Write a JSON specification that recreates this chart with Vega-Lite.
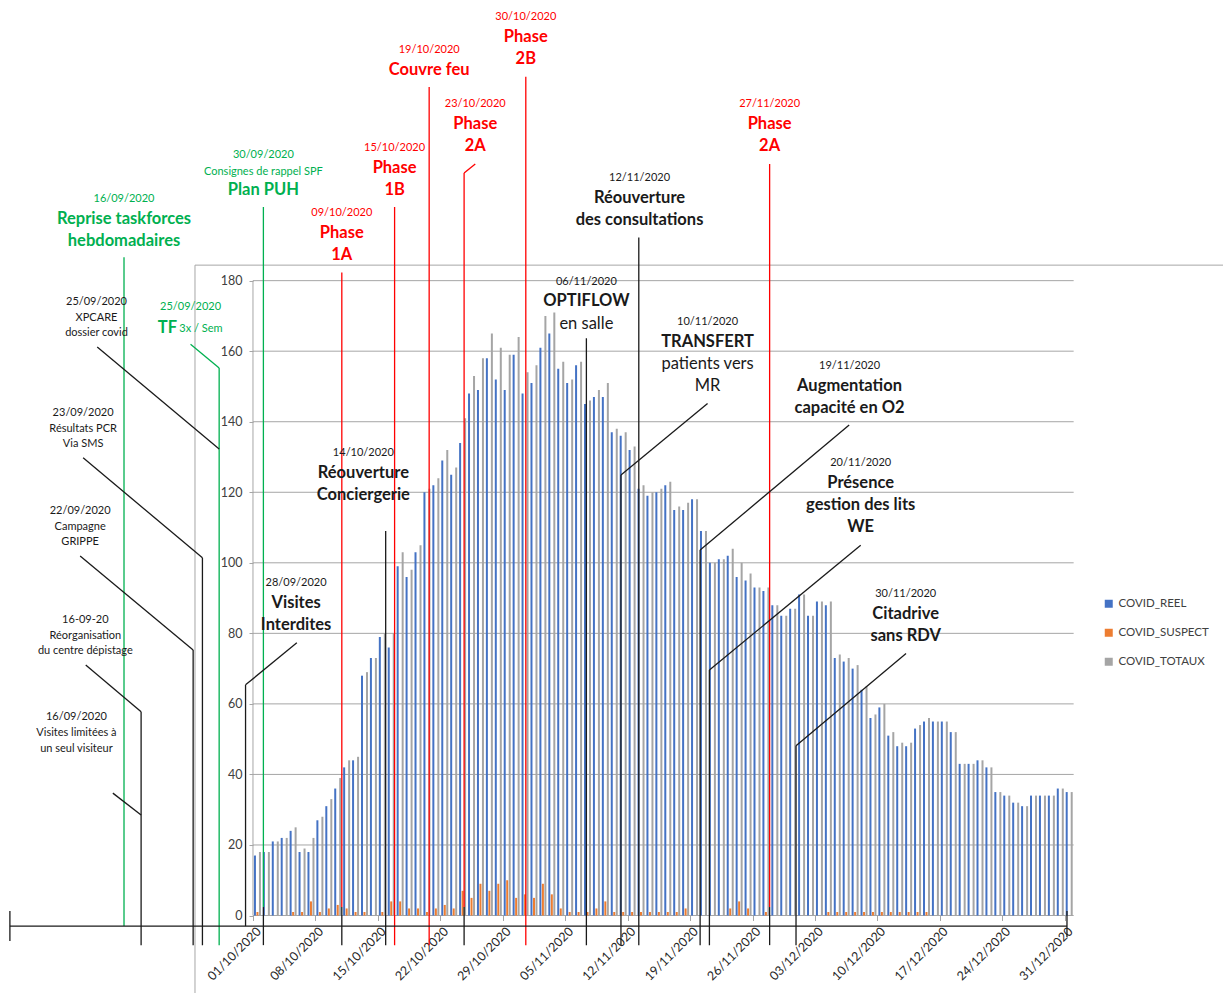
{
  "$schema": "https://vega.github.io/schema/vega-lite/v6.json",
  "width": 1223,
  "height": 993,
  "padding": 0,
  "autosize": {"type": "none"},
  "background": "white",
  "config": {"view": {"stroke": null}, "font": "Lato"},
  "datasets": {
    "covid": [
      {"d": "2020-10-01", "reel": 17, "suspect": 1, "totaux": 18},
      {"d": "2020-10-02", "reel": 18, "suspect": 0, "totaux": 18},
      {"d": "2020-10-03", "reel": 21, "suspect": 0, "totaux": 21},
      {"d": "2020-10-04", "reel": 22, "suspect": 0, "totaux": 22},
      {"d": "2020-10-05", "reel": 24, "suspect": 1, "totaux": 25},
      {"d": "2020-10-06", "reel": 18, "suspect": 1, "totaux": 19},
      {"d": "2020-10-07", "reel": 18, "suspect": 4, "totaux": 22},
      {"d": "2020-10-08", "reel": 27, "suspect": 1, "totaux": 28},
      {"d": "2020-10-09", "reel": 31, "suspect": 2, "totaux": 33},
      {"d": "2020-10-10", "reel": 36, "suspect": 3, "totaux": 39},
      {"d": "2020-10-11", "reel": 42, "suspect": 2, "totaux": 44},
      {"d": "2020-10-12", "reel": 44, "suspect": 1, "totaux": 45},
      {"d": "2020-10-13", "reel": 68, "suspect": 1, "totaux": 69},
      {"d": "2020-10-14", "reel": 73, "suspect": 0, "totaux": 73},
      {"d": "2020-10-15", "reel": 79, "suspect": 1, "totaux": 80},
      {"d": "2020-10-16", "reel": 76, "suspect": 4, "totaux": 80},
      {"d": "2020-10-17", "reel": 99, "suspect": 4, "totaux": 103},
      {"d": "2020-10-18", "reel": 96, "suspect": 2, "totaux": 98},
      {"d": "2020-10-19", "reel": 103, "suspect": 2, "totaux": 105},
      {"d": "2020-10-20", "reel": 120, "suspect": 1, "totaux": 121},
      {"d": "2020-10-21", "reel": 122, "suspect": 2, "totaux": 124},
      {"d": "2020-10-22", "reel": 129, "suspect": 3, "totaux": 132},
      {"d": "2020-10-23", "reel": 125, "suspect": 2, "totaux": 127},
      {"d": "2020-10-24", "reel": 134, "suspect": 7, "totaux": 141},
      {"d": "2020-10-25", "reel": 148, "suspect": 5, "totaux": 153},
      {"d": "2020-10-26", "reel": 149, "suspect": 9, "totaux": 158},
      {"d": "2020-10-27", "reel": 158, "suspect": 7, "totaux": 165},
      {"d": "2020-10-28", "reel": 152, "suspect": 9, "totaux": 161},
      {"d": "2020-10-29", "reel": 149, "suspect": 10, "totaux": 159},
      {"d": "2020-10-30", "reel": 159, "suspect": 5, "totaux": 164},
      {"d": "2020-10-31", "reel": 148, "suspect": 6, "totaux": 154},
      {"d": "2020-11-01", "reel": 151, "suspect": 5, "totaux": 156},
      {"d": "2020-11-02", "reel": 161, "suspect": 9, "totaux": 170},
      {"d": "2020-11-03", "reel": 165, "suspect": 6, "totaux": 171},
      {"d": "2020-11-04", "reel": 155, "suspect": 2, "totaux": 157},
      {"d": "2020-11-05", "reel": 151, "suspect": 1, "totaux": 152},
      {"d": "2020-11-06", "reel": 156, "suspect": 1, "totaux": 157},
      {"d": "2020-11-07", "reel": 145, "suspect": 1, "totaux": 146},
      {"d": "2020-11-08", "reel": 147, "suspect": 2, "totaux": 149},
      {"d": "2020-11-09", "reel": 147, "suspect": 4, "totaux": 151},
      {"d": "2020-11-10", "reel": 137, "suspect": 1, "totaux": 138},
      {"d": "2020-11-11", "reel": 136, "suspect": 1, "totaux": 137},
      {"d": "2020-11-12", "reel": 132, "suspect": 1, "totaux": 133},
      {"d": "2020-11-13", "reel": 121, "suspect": 1, "totaux": 122},
      {"d": "2020-11-14", "reel": 119, "suspect": 1, "totaux": 120},
      {"d": "2020-11-15", "reel": 120, "suspect": 1, "totaux": 121},
      {"d": "2020-11-16", "reel": 122, "suspect": 1, "totaux": 123},
      {"d": "2020-11-17", "reel": 115, "suspect": 1, "totaux": 116},
      {"d": "2020-11-18", "reel": 115, "suspect": 2, "totaux": 117},
      {"d": "2020-11-19", "reel": 118, "suspect": 0, "totaux": 118},
      {"d": "2020-11-20", "reel": 109, "suspect": 0, "totaux": 109},
      {"d": "2020-11-21", "reel": 100, "suspect": 0, "totaux": 100},
      {"d": "2020-11-22", "reel": 101, "suspect": 0, "totaux": 101},
      {"d": "2020-11-23", "reel": 102, "suspect": 2, "totaux": 104},
      {"d": "2020-11-24", "reel": 96, "suspect": 4, "totaux": 100},
      {"d": "2020-11-25", "reel": 95, "suspect": 2, "totaux": 97},
      {"d": "2020-11-26", "reel": 93, "suspect": 0, "totaux": 93},
      {"d": "2020-11-27", "reel": 92, "suspect": 1, "totaux": 93},
      {"d": "2020-11-28", "reel": 88, "suspect": 0, "totaux": 88},
      {"d": "2020-11-29", "reel": 85, "suspect": 0, "totaux": 85},
      {"d": "2020-11-30", "reel": 87, "suspect": 0, "totaux": 87},
      {"d": "2020-12-01", "reel": 91, "suspect": 0, "totaux": 91},
      {"d": "2020-12-02", "reel": 85, "suspect": 0, "totaux": 85},
      {"d": "2020-12-03", "reel": 89, "suspect": 0, "totaux": 89},
      {"d": "2020-12-04", "reel": 88, "suspect": 1, "totaux": 89},
      {"d": "2020-12-05", "reel": 73, "suspect": 1, "totaux": 74},
      {"d": "2020-12-06", "reel": 72, "suspect": 1, "totaux": 73},
      {"d": "2020-12-07", "reel": 70, "suspect": 1, "totaux": 71},
      {"d": "2020-12-08", "reel": 64, "suspect": 1, "totaux": 65},
      {"d": "2020-12-09", "reel": 56, "suspect": 1, "totaux": 57},
      {"d": "2020-12-10", "reel": 59, "suspect": 1, "totaux": 60},
      {"d": "2020-12-11", "reel": 51, "suspect": 1, "totaux": 52},
      {"d": "2020-12-12", "reel": 48, "suspect": 1, "totaux": 49},
      {"d": "2020-12-13", "reel": 48, "suspect": 1, "totaux": 49},
      {"d": "2020-12-14", "reel": 53, "suspect": 1, "totaux": 54},
      {"d": "2020-12-15", "reel": 55, "suspect": 1, "totaux": 56},
      {"d": "2020-12-16", "reel": 55, "suspect": 0, "totaux": 55},
      {"d": "2020-12-17", "reel": 55, "suspect": 0, "totaux": 55},
      {"d": "2020-12-18", "reel": 52, "suspect": 0, "totaux": 52},
      {"d": "2020-12-19", "reel": 43, "suspect": 0, "totaux": 43},
      {"d": "2020-12-20", "reel": 43, "suspect": 0, "totaux": 43},
      {"d": "2020-12-21", "reel": 44, "suspect": 0, "totaux": 44},
      {"d": "2020-12-22", "reel": 42, "suspect": 0, "totaux": 42},
      {"d": "2020-12-23", "reel": 35, "suspect": 0, "totaux": 35},
      {"d": "2020-12-24", "reel": 34, "suspect": 0, "totaux": 34},
      {"d": "2020-12-25", "reel": 32, "suspect": 0, "totaux": 32},
      {"d": "2020-12-26", "reel": 31, "suspect": 0, "totaux": 31},
      {"d": "2020-12-27", "reel": 34, "suspect": 0, "totaux": 34},
      {"d": "2020-12-28", "reel": 34, "suspect": 0, "totaux": 34},
      {"d": "2020-12-29", "reel": 34, "suspect": 0, "totaux": 34},
      {"d": "2020-12-30", "reel": 36, "suspect": 0, "totaux": 36},
      {"d": "2020-12-31", "reel": 35, "suspect": 0, "totaux": 35}
    ],
    "graduations": [
      {"v": 0}, {"v": 20}, {"v": 40}, {"v": 60}, {"v": 80},
      {"v": 100}, {"v": 120}, {"v": 140}, {"v": 160}, {"v": 180}
    ],
    "cadre": [
      {"x1": "2020-09-24T00:00Z", "y1": 184.4, "x2": "2021-01-17T06:00Z", "y2": 184.4},
      {"x1": "2020-09-24T00:00Z", "y1": 184.4, "x2": "2020-09-24T00:00Z", "y2": -22},
      {"x1": "2020-09-30T12:00Z", "y1": 0, "x2": "2020-09-30T12:00Z", "y2": 180}
    ],
    "segments": [
      {"x1": "2020-09-16T01:00Z", "y1": 186.6, "x2": "2020-09-16T01:00Z", "y2": -3.0, "type": "taskforce"},
      {"x1": "2020-10-01T16:00Z", "y1": 200.9, "x2": "2020-10-01T16:00Z", "y2": 2.4, "type": "taskforce"},
      {"x1": "2020-10-01T16:00Z", "y1": 2.4, "x2": "2020-10-01T16:00Z", "y2": -8.4, "type": "evenement"},
      {"x1": "2020-09-23T12:00Z", "y1": 162.0, "x2": "2020-09-26T17:00Z", "y2": 155.2, "type": "taskforce"},
      {"x1": "2020-09-26T17:00Z", "y1": 155.2, "x2": "2020-09-26T17:00Z", "y2": -8.4, "type": "taskforce"},
      {"x1": "2020-10-10T11:00Z", "y1": 182.3, "x2": "2020-10-10T11:00Z", "y2": 2.4, "type": "phase"},
      {"x1": "2020-10-10T11:00Z", "y1": 2.4, "x2": "2020-10-10T11:00Z", "y2": -8.4, "type": "evenement"},
      {"x1": "2020-10-16T09:00Z", "y1": 200.9, "x2": "2020-10-16T09:00Z", "y2": -8.4, "type": "phase"},
      {"x1": "2020-10-20T06:00Z", "y1": 234.9, "x2": "2020-10-20T06:00Z", "y2": -8.4, "type": "phase"},
      {"x1": "2020-10-25T10:00Z", "y1": 213.1, "x2": "2020-10-24T04:00Z", "y2": 210.5, "type": "phase"},
      {"x1": "2020-10-24T04:00Z", "y1": 210.5, "x2": "2020-10-24T04:00Z", "y2": 2.4, "type": "phase"},
      {"x1": "2020-10-24T04:00Z", "y1": 2.4, "x2": "2020-10-24T04:00Z", "y2": -8.4, "type": "evenement"},
      {"x1": "2020-10-31T02:00Z", "y1": 237.8, "x2": "2020-10-31T02:00Z", "y2": -8.4, "type": "phase"},
      {"x1": "2020-11-27T10:00Z", "y1": 213.1, "x2": "2020-11-27T10:00Z", "y2": 2.4, "type": "phase"},
      {"x1": "2020-11-27T10:00Z", "y1": 2.4, "x2": "2020-11-27T10:00Z", "y2": -8.4, "type": "evenement"},
      {"x1": "2020-11-12T18:00Z", "y1": 192.2, "x2": "2020-11-12T18:00Z", "y2": -8.4, "type": "evenement"},
      {"x1": "2020-11-06T21:00Z", "y1": 163.7, "x2": "2020-11-06T21:00Z", "y2": -8.4, "type": "evenement"},
      {"x1": "2020-11-20T11:00Z", "y1": 145.2, "x2": "2020-11-10T18:00Z", "y2": 124.9, "type": "evenement"},
      {"x1": "2020-11-10T18:00Z", "y1": 124.9, "x2": "2020-11-10T18:00Z", "y2": -8.4, "type": "evenement"},
      {"x1": "2020-12-06T08:00Z", "y1": 139.1, "x2": "2020-11-19T15:00Z", "y2": 103.6, "type": "evenement"},
      {"x1": "2020-11-19T15:00Z", "y1": 103.6, "x2": "2020-11-19T15:00Z", "y2": -8.4, "type": "evenement"},
      {"x1": "2020-12-07T15:00Z", "y1": 105.0, "x2": "2020-11-20T16:00Z", "y2": 69.6, "type": "evenement"},
      {"x1": "2020-11-20T16:00Z", "y1": 69.6, "x2": "2020-11-20T16:00Z", "y2": -8.4, "type": "evenement"},
      {"x1": "2020-12-12T17:00Z", "y1": 74.3, "x2": "2020-11-30T09:00Z", "y2": 48.1, "type": "evenement"},
      {"x1": "2020-11-30T09:00Z", "y1": 48.1, "x2": "2020-11-30T09:00Z", "y2": -8.4, "type": "evenement"},
      {"x1": "2020-10-15T09:00Z", "y1": 109.0, "x2": "2020-10-15T09:00Z", "y2": -8.4, "type": "evenement"},
      {"x1": "2020-10-05T10:00Z", "y1": 77.3, "x2": "2020-09-29T16:00Z", "y2": 65.4, "type": "evenement"},
      {"x1": "2020-09-29T16:00Z", "y1": 65.4, "x2": "2020-09-29T16:00Z", "y2": -3.0, "type": "evenement"},
      {"x1": "2020-09-13T01:00Z", "y1": 161.2, "x2": "2020-09-26T17:00Z", "y2": 132.3, "type": "evenement"},
      {"x1": "2020-09-11T11:00Z", "y1": 129.8, "x2": "2020-09-24T20:00Z", "y2": 101.4, "type": "evenement"},
      {"x1": "2020-09-24T20:00Z", "y1": 101.4, "x2": "2020-09-24T20:00Z", "y2": -8.4, "type": "evenement"},
      {"x1": "2020-09-11T03:00Z", "y1": 101.9, "x2": "2020-09-23T19:00Z", "y2": 75.3, "type": "evenement"},
      {"x1": "2020-09-23T19:00Z", "y1": 75.3, "x2": "2020-09-23T19:00Z", "y2": -8.4, "type": "evenement"},
      {"x1": "2020-09-11T18:00Z", "y1": 71.0, "x2": "2020-09-17T23:00Z", "y2": 57.8, "type": "evenement"},
      {"x1": "2020-09-17T23:00Z", "y1": 57.8, "x2": "2020-09-17T23:00Z", "y2": -8.4, "type": "evenement"},
      {"x1": "2020-09-14T19:00Z", "y1": 34.7, "x2": "2020-09-17T23:00Z", "y2": 28.5, "type": "evenement"},
      {"x1": "2020-09-03T06:00Z", "y1": -3.0, "x2": "2020-12-30T18:00Z", "y2": -3.0, "type": "evenement"},
      {"x1": "2020-09-03T06:00Z", "y1": 1.3, "x2": "2020-09-03T06:00Z", "y2": -7.2, "type": "evenement"},
      {"x1": "2020-12-30T18:00Z", "y1": 1.3, "x2": "2020-12-30T18:00Z", "y2": -6.1, "type": "evenement"}
    ],
    "annotations": [
      {"x": "2020-09-16T01:00Z", "y": 203.1, "texte": "16/09/2020", "type": "taskforce", "niveau": "date"},
      {"x": "2020-09-16T01:00Z", "y": 197.5, "texte": "Reprise taskforces", "type": "taskforce", "niveau": "titre"},
      {"x": "2020-09-16T01:00Z", "y": 191.2, "texte": "hebdomadaires", "type": "taskforce", "niveau": "titre"},
      {"x": "2020-10-01T16:00Z", "y": 215.6, "texte": "30/09/2020", "type": "taskforce", "niveau": "date"},
      {"x": "2020-10-01T16:00Z", "y": 210.8, "texte": "Consignes de rappel SPF", "type": "taskforce", "niveau": "note"},
      {"x": "2020-10-01T16:00Z", "y": 205.7, "texte": "Plan PUH", "type": "taskforce", "niveau": "titre"},
      {"x": "2020-09-23T12:00Z", "y": 172.5, "texte": "25/09/2020", "type": "taskforce", "niveau": "date"},
      {"x": "2020-09-20T22:00Z", "y": 166.7, "texte": "TF", "type": "taskforce", "niveau": "titre"},
      {"x": "2020-09-24T16:00Z", "y": 166.2, "texte": "3x / Sem", "type": "taskforce", "niveau": "note"},
      {"x": "2020-10-10T11:00Z", "y": 199.2, "texte": "09/10/2020", "type": "phase", "niveau": "date"},
      {"x": "2020-10-10T11:00Z", "y": 193.5, "texte": "Phase", "type": "phase", "niveau": "titre"},
      {"x": "2020-10-10T11:00Z", "y": 187.3, "texte": "1A", "type": "phase", "niveau": "titre"},
      {"x": "2020-10-16T09:00Z", "y": 217.6, "texte": "15/10/2020", "type": "phase", "niveau": "date"},
      {"x": "2020-10-16T09:00Z", "y": 211.9, "texte": "Phase", "type": "phase", "niveau": "titre"},
      {"x": "2020-10-16T09:00Z", "y": 205.7, "texte": "1B", "type": "phase", "niveau": "titre"},
      {"x": "2020-10-20T06:00Z", "y": 245.4, "texte": "19/10/2020", "type": "phase", "niveau": "date"},
      {"x": "2020-10-20T06:00Z", "y": 239.7, "texte": "Couvre feu", "type": "phase", "niveau": "titre"},
      {"x": "2020-10-25T10:00Z", "y": 230.1, "texte": "23/10/2020", "type": "phase", "niveau": "date"},
      {"x": "2020-10-25T10:00Z", "y": 224.4, "texte": "Phase", "type": "phase", "niveau": "titre"},
      {"x": "2020-10-25T10:00Z", "y": 218.2, "texte": "2A", "type": "phase", "niveau": "titre"},
      {"x": "2020-10-31T02:00Z", "y": 254.8, "texte": "30/10/2020", "type": "phase", "niveau": "date"},
      {"x": "2020-10-31T02:00Z", "y": 249.1, "texte": "Phase", "type": "phase", "niveau": "titre"},
      {"x": "2020-10-31T02:00Z", "y": 242.9, "texte": "2B", "type": "phase", "niveau": "titre"},
      {"x": "2020-11-27T10:00Z", "y": 230.1, "texte": "27/11/2020", "type": "phase", "niveau": "date"},
      {"x": "2020-11-27T10:00Z", "y": 224.4, "texte": "Phase", "type": "phase", "niveau": "titre"},
      {"x": "2020-11-27T10:00Z", "y": 218.2, "texte": "2A", "type": "phase", "niveau": "titre"},
      {"x": "2020-11-12T20:00Z", "y": 209.1, "texte": "12/11/2020", "type": "evenement", "niveau": "date"},
      {"x": "2020-11-12T20:00Z", "y": 203.4, "texte": "Réouverture", "type": "evenement", "niveau": "titre"},
      {"x": "2020-11-12T20:00Z", "y": 197.2, "texte": "des consultations", "type": "evenement", "niveau": "titre"},
      {"x": "2020-11-06T21:00Z", "y": 179.6, "texte": "06/11/2020", "type": "evenement", "niveau": "date"},
      {"x": "2020-11-06T21:00Z", "y": 174.2, "texte": "OPTIFLOW", "type": "evenement", "niveau": "titre"},
      {"x": "2020-11-06T21:00Z", "y": 167.7, "texte": "en salle", "type": "evenement", "niveau": "detail"},
      {"x": "2020-11-20T11:00Z", "y": 168.3, "texte": "10/11/2020", "type": "evenement", "niveau": "date"},
      {"x": "2020-11-20T11:00Z", "y": 162.6, "texte": "TRANSFERT", "type": "evenement", "niveau": "titre"},
      {"x": "2020-11-20T11:00Z", "y": 156.4, "texte": "patients vers", "type": "evenement", "niveau": "detail"},
      {"x": "2020-11-20T11:00Z", "y": 150.1, "texte": "MR", "type": "evenement", "niveau": "detail"},
      {"x": "2020-12-06T09:00Z", "y": 155.8, "texte": "19/11/2020", "type": "evenement", "niveau": "date"},
      {"x": "2020-12-06T09:00Z", "y": 150.1, "texte": "Augmentation", "type": "evenement", "niveau": "titre"},
      {"x": "2020-12-06T09:00Z", "y": 143.9, "texte": "capacité en O2", "type": "evenement", "niveau": "titre"},
      {"x": "2020-12-07T15:00Z", "y": 128.3, "texte": "20/11/2020", "type": "evenement", "niveau": "date"},
      {"x": "2020-12-07T15:00Z", "y": 122.6, "texte": "Présence", "type": "evenement", "niveau": "titre"},
      {"x": "2020-12-07T15:00Z", "y": 116.4, "texte": "gestion des lits", "type": "evenement", "niveau": "titre"},
      {"x": "2020-12-07T15:00Z", "y": 110.1, "texte": "WE", "type": "evenement", "niveau": "titre"},
      {"x": "2020-12-12T16:00Z", "y": 91.2, "texte": "30/11/2020", "type": "evenement", "niveau": "date"},
      {"x": "2020-12-12T16:00Z", "y": 85.5, "texte": "Citadrive", "type": "evenement", "niveau": "titre"},
      {"x": "2020-12-12T16:00Z", "y": 79.2, "texte": "sans RDV", "type": "evenement", "niveau": "titre"},
      {"x": "2020-10-12T21:00Z", "y": 131.1, "texte": "14/10/2020", "type": "evenement", "niveau": "date"},
      {"x": "2020-10-12T21:00Z", "y": 125.5, "texte": "Réouverture", "type": "evenement", "niveau": "titre"},
      {"x": "2020-10-12T21:00Z", "y": 119.2, "texte": "Conciergerie", "type": "evenement", "niveau": "titre"},
      {"x": "2020-10-05T08:00Z", "y": 94.3, "texte": "28/09/2020", "type": "evenement", "niveau": "date"},
      {"x": "2020-10-05T08:00Z", "y": 88.6, "texte": "Visites", "type": "evenement", "niveau": "titre"},
      {"x": "2020-10-05T08:00Z", "y": 82.4, "texte": "Interdites", "type": "evenement", "niveau": "titre"},
      {"x": "2020-09-12T23:00Z", "y": 173.9, "texte": "25/09/2020", "type": "evenement", "niveau": "date"},
      {"x": "2020-09-12T23:00Z", "y": 169.4, "texte": "XPCARE", "type": "evenement", "niveau": "note"},
      {"x": "2020-09-12T23:00Z", "y": 165.1, "texte": "dossier covid", "type": "evenement", "niveau": "note"},
      {"x": "2020-09-11T11:00Z", "y": 142.5, "texte": "23/09/2020", "type": "evenement", "niveau": "date"},
      {"x": "2020-09-11T11:00Z", "y": 137.9, "texte": "Résultats PCR", "type": "evenement", "niveau": "note"},
      {"x": "2020-09-11T11:00Z", "y": 133.7, "texte": "Via SMS", "type": "evenement", "niveau": "note"},
      {"x": "2020-09-11T03:00Z", "y": 114.7, "texte": "22/09/2020", "type": "evenement", "niveau": "date"},
      {"x": "2020-09-11T03:00Z", "y": 110.1, "texte": "Campagne", "type": "evenement", "niveau": "note"},
      {"x": "2020-09-11T03:00Z", "y": 105.9, "texte": "GRIPPE", "type": "evenement", "niveau": "note"},
      {"x": "2020-09-11T17:00Z", "y": 83.8, "texte": "16-09-20", "type": "evenement", "niveau": "date"},
      {"x": "2020-09-11T17:00Z", "y": 79.2, "texte": "Réorganisation", "type": "evenement", "niveau": "note"},
      {"x": "2020-09-11T17:00Z", "y": 74.9, "texte": "du centre dépistage", "type": "evenement", "niveau": "note"},
      {"x": "2020-09-10T17:00Z", "y": 56.3, "texte": "16/09/2020", "type": "evenement", "niveau": "date"},
      {"x": "2020-09-10T17:00Z", "y": 51.7, "texte": "Visites limitées à", "type": "evenement", "niveau": "note"},
      {"x": "2020-09-10T17:00Z", "y": 47.2, "texte": "un seul visiteur", "type": "evenement", "niveau": "note"}
    ]
  },
  "layer": [
    {
      "data": {"name": "graduations"},
      "mark": {"type": "rule", "color": "#A6A6A6", "strokeWidth": 1},
      "encoding": {
        "x": {"datum": {"year": 2020, "month": 9, "date": 30, "hours": 12, "utc": true}, "type": "temporal"},
        "x2": {"datum": {"year": 2020, "month": 12, "date": 31, "hours": 12, "utc": true}},
        "y": {"field": "v", "type": "quantitative", "title": null}
      }
    },
    {
      "data": {"name": "cadre"},
      "mark": {"type": "rule", "color": "#A6A6A6", "strokeWidth": 1},
      "encoding": {
        "x": {"field": "x1", "type": "temporal", "title": null},
        "x2": {"field": "x2"},
        "y": {"field": "y1", "type": "quantitative", "title": null},
        "y2": {"field": "y2"}
      }
    },
    {
      "data": {"name": "covid"},
      "mark": {"type": "bar", "width": 2, "xOffset": -2.5},
      "encoding": {
        "x": {
          "field": "d",
          "type": "temporal",
          "title": null,
          "scale": {
            "type": "utc",
            "padding": 0,
            "nice": false,
            "domain": [
              {"year": 2020, "month": 9, "date": 2, "hours": 3, "minutes": 22, "utc": true},
              {"year": 2021, "month": 1, "date": 17, "hours": 5, "minutes": 46, "utc": true}
            ]
          },
          "axis": {
            "title": null,
            "values": [
              {"year": 2020, "month": 10, "date": 1, "utc": true},
              {"year": 2020, "month": 10, "date": 8, "utc": true},
              {"year": 2020, "month": 10, "date": 15, "utc": true},
              {"year": 2020, "month": 10, "date": 22, "utc": true},
              {"year": 2020, "month": 10, "date": 29, "utc": true},
              {"year": 2020, "month": 11, "date": 5, "utc": true},
              {"year": 2020, "month": 11, "date": 12, "utc": true},
              {"year": 2020, "month": 11, "date": 19, "utc": true},
              {"year": 2020, "month": 11, "date": 26, "utc": true},
              {"year": 2020, "month": 12, "date": 3, "utc": true},
              {"year": 2020, "month": 12, "date": 10, "utc": true},
              {"year": 2020, "month": 12, "date": 17, "utc": true},
              {"year": 2020, "month": 12, "date": 24, "utc": true},
              {"year": 2020, "month": 12, "date": 31, "utc": true}
            ],
            "labelExpr": "utcFormat(datum.value, '%d/%m/%Y')",
            "offset": -77.5,
            "domain": false,
            "grid": false,
            "ticks": true,
            "tickSize": 5,
            "tickColor": "#A6A6A6",
            "tickOffset": -4.46,
            "labelOffset": 5.5,
            "labelAngle": -45,
            "labelAlign": "right",
            "labelBaseline": "middle",
            "labelPadding": 8.5,
            "labelFont": "Lato",
            "labelFontSize": 12.5,
            "labelColor": "#262626",
            "labelOverlap": false,
            "labelBound": false,
            "labelFlush": false
          }
        },
        "y": {
          "field": "reel",
          "type": "quantitative",
          "title": null,
          "scale": {"domain": [-21.97, 259.57], "nice": false, "zero": false, "padding": 0},
          "axis": {
            "title": null,
            "values": [0, 20, 40, 60, 80, 100, 120, 140, 160, 180],
            "offset": -253,
            "domain": false,
            "grid": false,
            "tickSize": 4,
            "tickColor": "#A6A6A6",
            "labelPadding": 7,
            "labelFont": "Lato",
            "labelFontSize": 12.5,
            "labelColor": "#404040",
            "labelOverlap": false,
            "labelBound": false,
            "labelFlush": false
          }
        },
        "fill": {
          "datum": "COVID_REEL",
          "type": "nominal",
          "scale": {
            "domain": ["COVID_REEL", "COVID_SUSPECT", "COVID_TOTAUX"],
            "range": ["#4472C4", "#ED7D31", "#A5A5A5"]
          },
          "legend": {
            "title": null,
            "orient": "none",
            "legendX": 1103,
            "legendY": 598,
            "padding": 0,
            "symbolType": "square",
            "symbolSize": 64,
            "symbolStrokeWidth": 0,
            "labelFont": "Lato",
            "labelFontSize": 11.5,
            "labelColor": "#404040",
            "labelOffset": 4,
            "rowPadding": 16
          }
        }
      }
    },
    {
      "data": {"name": "covid"},
      "mark": {"type": "bar", "width": 2, "xOffset": 0},
      "encoding": {
        "x": {"field": "d", "type": "temporal", "title": null},
        "y": {"field": "suspect", "type": "quantitative", "title": null},
        "fill": {"datum": "COVID_SUSPECT", "type": "nominal"}
      }
    },
    {
      "data": {"name": "covid"},
      "mark": {"type": "bar", "width": 2, "xOffset": 2.5},
      "encoding": {
        "x": {"field": "d", "type": "temporal", "title": null},
        "y": {"field": "totaux", "type": "quantitative", "title": null},
        "fill": {"datum": "COVID_TOTAUX", "type": "nominal"}
      }
    },
    {
      "data": {"name": "segments"},
      "mark": {"type": "rule", "strokeWidth": 1.3},
      "encoding": {
        "x": {"field": "x1", "type": "temporal", "title": null},
        "x2": {"field": "x2"},
        "y": {"field": "y1", "type": "quantitative", "title": null},
        "y2": {"field": "y2"},
        "color": {
          "field": "type",
          "type": "nominal",
          "scale": {"domain": ["taskforce", "phase", "evenement"], "range": ["#00B050", "#FF0000", "#1A1A1A"]},
          "legend": null
        }
      }
    },
    {
      "data": {"name": "annotations"},
      "transform": [{"filter": "datum.niveau == 'date' || datum.niveau == 'note'"}],
      "mark": {"type": "text", "font": "Lato", "fontSize": 11, "align": "center", "baseline": "middle"},
      "encoding": {
        "x": {"field": "x", "type": "temporal", "title": null},
        "y": {"field": "y", "type": "quantitative", "title": null},
        "text": {"field": "texte"},
        "color": {"field": "type", "type": "nominal", "legend": null}
      }
    },
    {
      "data": {"name": "annotations"},
      "transform": [{"filter": "datum.niveau == 'titre'"}],
      "mark": {"type": "text", "font": "Lato", "fontSize": 16.5, "fontWeight": "bold", "align": "center", "baseline": "middle"},
      "encoding": {
        "x": {"field": "x", "type": "temporal", "title": null},
        "y": {"field": "y", "type": "quantitative", "title": null},
        "text": {"field": "texte"},
        "color": {"field": "type", "type": "nominal", "legend": null}
      }
    },
    {
      "data": {"name": "annotations"},
      "transform": [{"filter": "datum.niveau == 'detail'"}],
      "mark": {"type": "text", "font": "Lato", "fontSize": 16.5, "align": "center", "baseline": "middle"},
      "encoding": {
        "x": {"field": "x", "type": "temporal", "title": null},
        "y": {"field": "y", "type": "quantitative", "title": null},
        "text": {"field": "texte"},
        "color": {"field": "type", "type": "nominal", "legend": null}
      }
    }
  ]
}
